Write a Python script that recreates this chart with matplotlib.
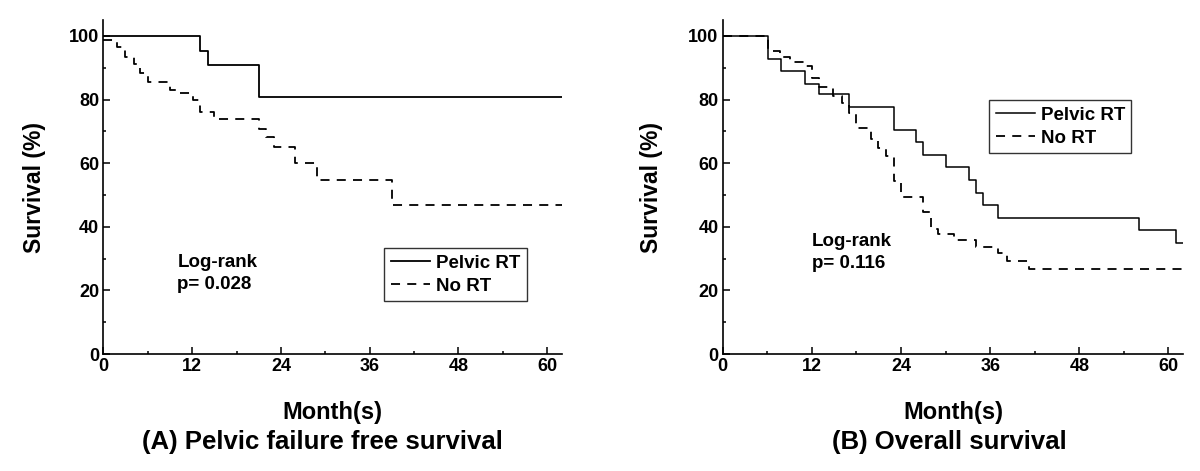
import matplotlib
matplotlib.use('Agg')
import matplotlib.pyplot as plt
from matplotlib.ticker import MultipleLocator

plt.rcParams['font.family'] = ['Liberation Sans', 'DejaVu Sans']
plt.rcParams['font.weight'] = 'bold'

# (A) pelvic failure free survival
a_rt_months = [0, 13.0, 14.1, 21.1, 62]
a_rt_surv = [100, 95.4, 91.0, 80.8, 80.8]
a_no_months = [0, 1.8, 2.9, 4.1, 5.0, 6.1, 9.0, 10.0, 12.1, 13.0, 15.0,
               21.1, 22.0, 23.0, 25.9, 28.9, 39.0, 62]
a_no_surv = [98.6, 96.5, 93.4, 91.3, 88.2, 85.5, 82.9, 81.9, 79.8, 76.1, 74.0,
             70.8, 68.2, 65.1, 60.1, 54.6, 46.9, 46.9]

# (B) overall survival
b_rt_months = [0, 6.05, 7.9, 11.1, 13.0, 17.0, 23.0, 26.0, 27.0, 30.1, 33.1,
               34.1, 35.1, 37.1, 56.1, 61.0, 62]
b_rt_surv = [100, 92.6, 88.9, 85.0, 81.6, 77.8, 70.3, 66.5, 62.5, 58.7, 54.7,
             50.6, 46.9, 42.8, 38.9, 35.0, 35.0]
b_no_months = [0, 6.05, 7.7, 9.0, 10.9, 12.0, 13.0, 14.9, 16.0, 17.0, 18.0,
               19.9, 20.9, 22.0, 23.0, 24.0, 27.0, 28.0, 29.0, 31.1, 34.1,
               37.1, 38.2, 41.2, 62]
b_no_surv = [100, 95.3, 93.3, 91.7, 90.4, 86.9, 84.0, 81.1, 79.0, 75.8, 70.9,
             67.5, 64.9, 62.3, 54.5, 49.3, 44.6, 39.4, 37.8, 35.7, 33.7,
             31.6, 29.2, 26.6, 26.6]

labels = ['Pelvic RT', 'No RT']
pvals = ['p= 0.028', 'p= 0.116']
titles = ['(A) Pelvic failure free survival', '(B) Overall survival']

fig = plt.figure(figsize=(12, 4.71), dpi=100)
axA = fig.add_axes([0.0861, 0.2484, 0.3823, 0.7091])
axB = fig.add_axes([0.6023, 0.2484, 0.3838, 0.7091])

dash = (0, (5, 4))
axA.step(a_rt_months, a_rt_surv, where='post', color='black', lw=1.3, label=labels[0])
axA.step(a_no_months, a_no_surv, where='post', color='black', lw=1.3, linestyle=dash, label=labels[1])
axB.step(b_rt_months, b_rt_surv, where='post', color='black', lw=1.1, label=labels[0])
axB.step(b_no_months, b_no_surv, where='post', color='black', lw=1.3, linestyle=dash, label=labels[1])

for ax in (axA, axB):
    ax.set_xlim(0, 62)
    ax.set_ylim(0, 105)
    ax.xaxis.set_major_locator(MultipleLocator(12))
    ax.xaxis.set_minor_locator(MultipleLocator(6))
    ax.yaxis.set_major_locator(MultipleLocator(20))
    ax.yaxis.set_minor_locator(MultipleLocator(10))
    ax.tick_params(which='major', direction='in', length=5, width=1.1, labelsize=13, pad=3)
    ax.tick_params(which='minor', direction='in', length=2.5, width=1.1)
    ax.spines['top'].set_visible(False)
    ax.spines['right'].set_visible(False)
    for s in ('left', 'bottom'):
        ax.spines[s].set_linewidth(1.2)
    ax.set_xlabel('Month(s)', fontsize=17, fontweight='bold')
    ax.set_ylabel('Survival (%)', fontsize=16.5, fontweight='bold')
    ax.xaxis.set_label_coords(0.5, -0.14)

axA.yaxis.set_label_coords(-0.125, 0.5)
axB.yaxis.set_label_coords(-0.13, 0.5)

axA.text(10, 25.3, 'Log-rank\n' + pvals[0], fontsize=13.5, fontweight='bold',
         va='center', ha='left', linespacing=1.4)
axB.text(12, 32, 'Log-rank\n' + pvals[1], fontsize=13.5, fontweight='bold',
         va='center', ha='left', linespacing=1.4)

leg_kw = dict(fontsize=13.5, frameon=True, fancybox=False, edgecolor='black',
              handlelength=2.1, handletextpad=0.3, borderpad=0.35,
              labelspacing=0.3, borderaxespad=0, loc='upper left')
lA = axA.legend(bbox_to_anchor=(0.612, 0.317), **leg_kw)
lB = axB.legend(bbox_to_anchor=(0.578, 0.760), **leg_kw)
for lg in (lA, lB):
    lg.get_frame().set_linewidth(1.0)

fig.text(0.269, 0.062, titles[0], fontsize=18.5, fontweight='bold', ha='center', va='center')
fig.text(0.791, 0.062, titles[1], fontsize=18.5, fontweight='bold', ha='center', va='center')

fig.savefig('out.png', dpi=100)
